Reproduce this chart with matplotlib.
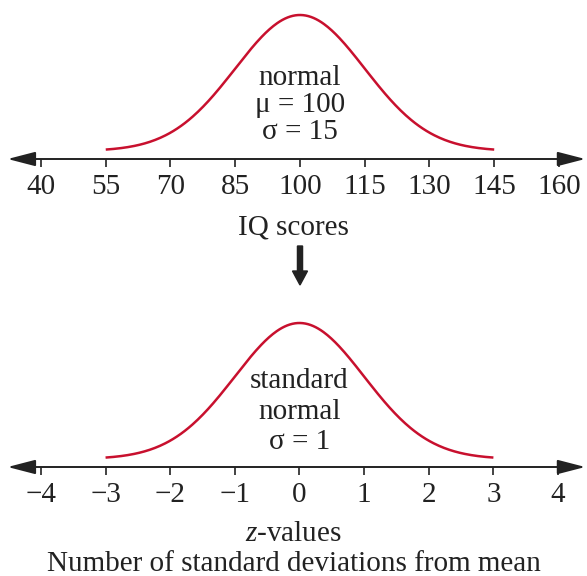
import numpy as np
import matplotlib.pyplot as plt
from matplotlib.patches import FancyArrow, ArrowStyle

# IQ scale (top) and z scale (bottom)
iq_mean = 100
iq_sd = 15
iq_ticks = [40, 55, 70, 85, 100, 115, 130, 145, 160]
z_ticks = [-4, -3, -2, -1, 0, 1, 2, 3, 4]
top_label = ["normal", "\u03bc = 100", "\u03c3 = 15"]
bottom_label = ["standard", "normal", "\u03c3 = 1"]

RED = "#c8102e"
INK = "#222222"
plt.rcParams['font.family'] = ['Liberation Serif', 'DejaVu Serif']
plt.rcParams['mathtext.fontset'] = 'custom'
plt.rcParams['mathtext.it'] = 'Liberation Serif:italic'
plt.rcParams['mathtext.rm'] = 'Liberation Serif'
FS = 21

W, H = 587, 576
fig = plt.figure(figsize=(W / 100, H / 100), dpi=100)


def make_axis(bottom_px, top_px, xlim, ticks, mean, sd, lines, text_y):
    ax = fig.add_axes([0, 1 - bottom_px / H, 1, (bottom_px - top_px) / H])
    ax.set_xlim(*xlim)
    peak_px = 144
    ax.set_ylim(0, (bottom_px - top_px) / peak_px)
    for s in ax.spines.values():
        s.set_visible(False)
    ax.set_yticks([])
    ax.set_xticks(ticks)
    ax.set_xticklabels([f"{t}" if t >= 0 else f"\u2212{-t}" for t in ticks])
    ax.tick_params(axis='x', direction='out', length=6, width=1.2,
                   labelsize=FS, pad=5, color=INK, labelcolor=INK)
    ax.patch.set_alpha(0)
    # axis line with arrow heads at both ends
    style = ArrowStyle('<|-|>', head_length=0.85, head_width=0.22)
    ax.annotate('', xy=(0.997, 0), xytext=(0.013, 0),
                xycoords=('axes fraction', 'data'),
                textcoords=('axes fraction', 'data'),
                arrowprops=dict(arrowstyle=style, color=INK, lw=1.4,
                                mutation_scale=20, shrinkA=0, shrinkB=0))
    x = np.linspace(mean - 3 * sd, mean + 3 * sd, 300)
    zz = (x - mean) / sd
    y = 0.055 + 0.945 * np.exp(-zz ** 2 / 2)
    ax.plot(x, y, color=RED, lw=1.8, solid_capstyle='butt')
    for i, t in enumerate(lines):
        ax.text(mean, text_y[i], t, ha='center', va='center', fontsize=FS,
                color=INK)
    return ax


ax1 = make_axis(159, 0, (30.5, 166.5), iq_ticks, iq_mean, iq_sd, top_label,
                [0.565, 0.375, 0.185])
ax1.set_xlabel("IQ scores", fontsize=FS, labelpad=10, color=INK)

ax2 = make_axis(467, 290, (-4.633, 4.448), z_ticks, 0, 1, bottom_label,
                [0.595, 0.385, 0.175])
ax2.set_xlabel("$\\it{z}$-values\nNumber of standard deviations from mean",
               fontsize=FS, labelpad=9, color=INK, linespacing=1.2)

# arrow between the two panels
fig.add_artist(FancyArrow(
    300 / W, 1 - 246 / H, 0, -(285 - 246) / H, width=5 / H,
    head_width=15 / W, head_length=14 / H, length_includes_head=True,
    color=INK, transform=fig.transFigure))

fig.savefig("out.png", dpi=100)
